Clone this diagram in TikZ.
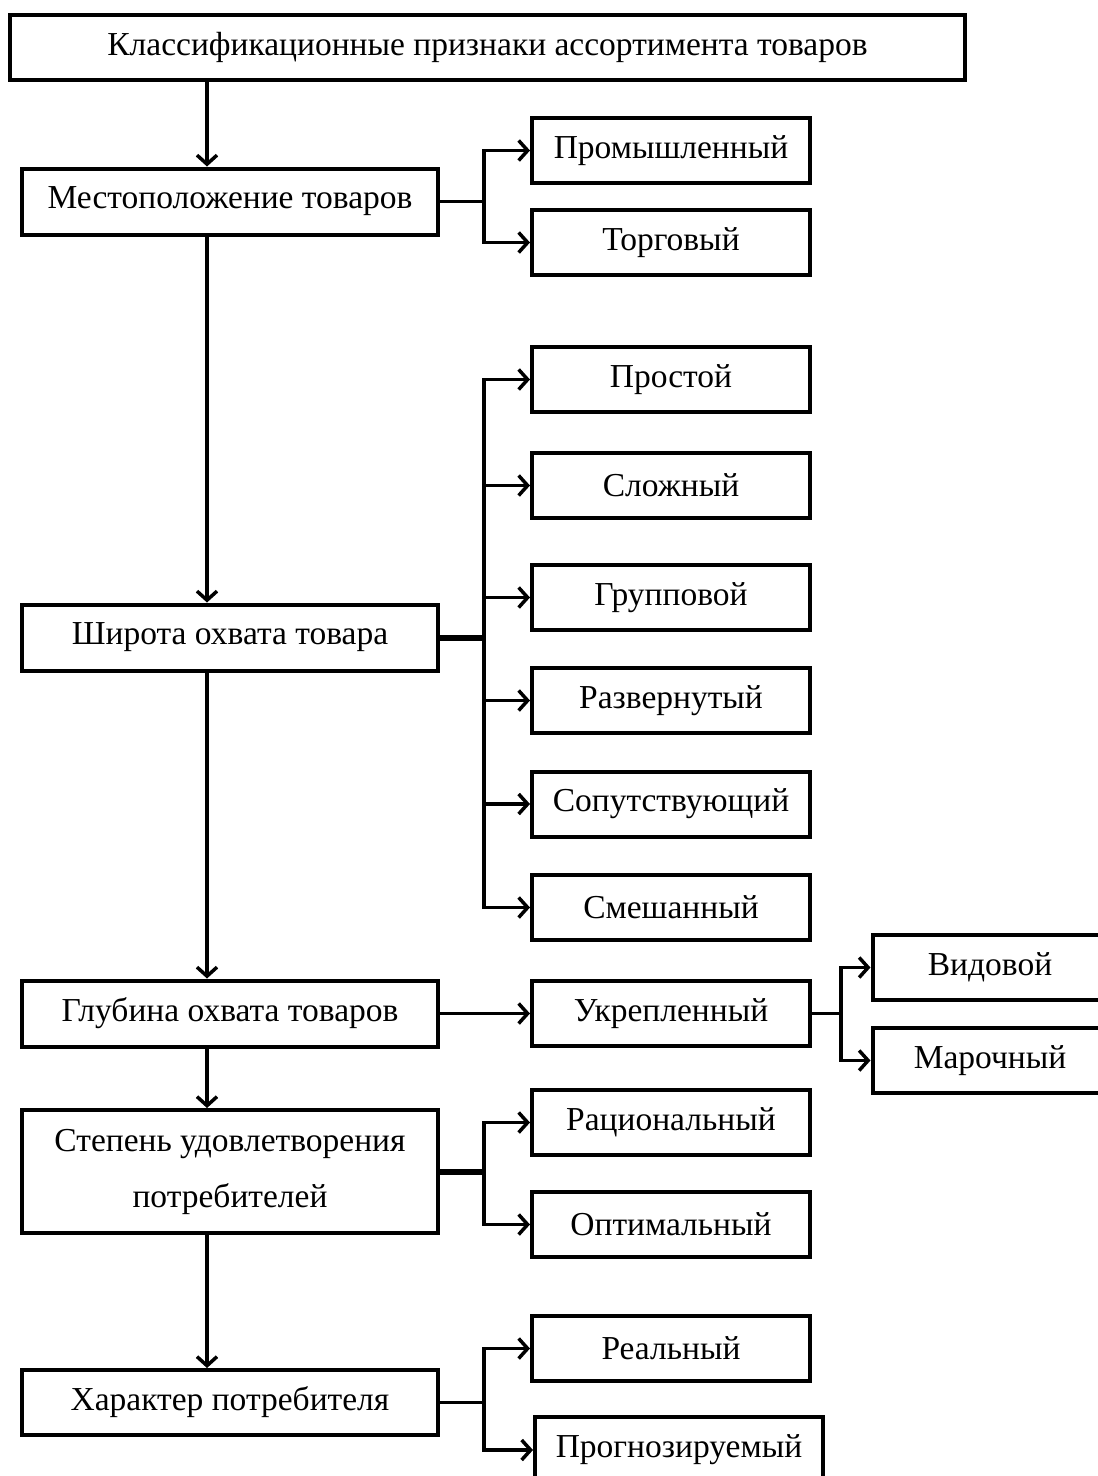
\documentclass[tikz,border=0pt]{standalone}
\usepackage{fontspec}
\setmainfont{Liberation Serif}
\usetikzlibrary{arrows.meta}
\begin{document}
\begin{tikzpicture}[x=1pt,y=-1pt,
  box/.style={draw, line width=4pt, inner sep=0pt, align=center,
    font=\fontsize{33.5}{56}\selectfont},
  sbox/.style={box, minimum width=278pt, minimum height=65pt},
  lbox/.style={box, minimum width=416pt, minimum height=66pt},
  conn/.style={line width=3.5pt},
  thick stub/.style={line width=6pt},
  arr/.style={line width=3.5pt, -{Straight Barb[length=9pt,width=20pt,line width=3.5pt]}}]
\useasboundingbox (0,0) rectangle (1098,1476);
\clip (0,0) rectangle (1098,1476);
\coordinate (spine) at (207,0);
\coordinate (bx) at (484,0);
\coordinate (bx2) at (841,0);
% boxes
\node[box, minimum width=955pt, minimum height=65pt] (top) at (487.5,47.5) {Классификационные признаки ассортимента товаров};
\node[lbox] (loc) at (230,201.5) {Местоположение товаров};
\node[sbox] (prom) at (671,150.5) {Промышленный};
\node[sbox] (torg) at (671,242.5) {Торговый};
\node[sbox] (prost) at (671,379.5) {Простой};
\node[sbox] (slozh) at (671,485.5) {Сложный};
\node[sbox] (grup) at (671,597.5) {Групповой};
\node[sbox] (razv) at (671,700.5) {Развернутый};
\node[sbox] (soput) at (671,804) {Сопутствующий};
\node[sbox] (smesh) at (671,907.5) {Смешанный};
\node[lbox] (shir) at (230,637.5) {Широта охвата товара};
\node[lbox] (glub) at (230,1013.5) {Глубина охвата товаров};
\node[sbox] (ukr) at (671,1013.5) {Укрепленный};
\node[box, minimum width=235pt, minimum height=65pt] (vid) at (990,967.5) {Видовой};
\node[box, minimum width=235pt, minimum height=65pt] (mar) at (990,1060.5) {Марочный};
\node[lbox, minimum height=123pt] (step) at (230,1171.5) {Степень удовлетворения\\потребителей};
\node[sbox] (rac) at (671,1122.5) {Рациональный};
\node[sbox] (opt) at (671,1224.5) {Оптимальный};
\node[lbox, minimum height=65pt] (har) at (230,1402.5) {Характер потребителя};
\node[sbox] (real) at (671,1348.5) {Реальный};
\node[box, minimum width=288pt, minimum height=66pt] (progn) at (679,1450) {Прогнозируемый};
% spine
\draw[arr] (top.south -| spine) -- (loc.north -| spine);
\draw[arr] (loc.south -| spine) -- (shir.north -| spine);
\draw[arr] (shir.south -| spine) -- (glub.north -| spine);
\draw[arr] (glub.south -| spine) -- (step.north -| spine);
\draw[arr] (step.south -| spine) -- (har.north -| spine);
% location branch
\draw[conn] (loc.east) -- (loc.east -| bx);
\draw[arr] (loc.east -| bx) |- (prom.west);
\draw[arr] (loc.east -| bx) |- (torg.west);
% width branch
\draw[thick stub] (shir.east) -- (shir.east -| bx);
\draw[conn] (prost.west -| bx) -- (smesh.west -| bx);
\draw[arr] (shir.east -| bx) |- (prost.west);
\draw[arr] (shir.east -| bx) |- (slozh.west);
\draw[arr] (shir.east -| bx) |- (grup.west);
\draw[arr] (shir.east -| bx) |- (razv.west);
\draw[arr] (shir.east -| bx) |- (soput.west);
\draw[arr] (shir.east -| bx) |- (smesh.west);
% depth
\draw[arr] (glub.east) -- (ukr.west);
\draw[conn] (ukr.east) -- (ukr.east -| bx2);
\draw[arr] (ukr.east -| bx2) |- (vid.west);
\draw[arr] (ukr.east -| bx2) |- (mar.west);
% satisfaction
\draw[thick stub] (step.east) -- (step.east -| bx);
\draw[arr] (step.east -| bx) |- (rac.west);
\draw[arr] (step.east -| bx) |- (opt.west);
% character
\draw[conn] (har.east) -- (har.east -| bx);
\draw[arr] (har.east -| bx) |- (real.west);
\draw[arr] (har.east -| bx) |- (progn.west);
\end{tikzpicture}
\end{document}
